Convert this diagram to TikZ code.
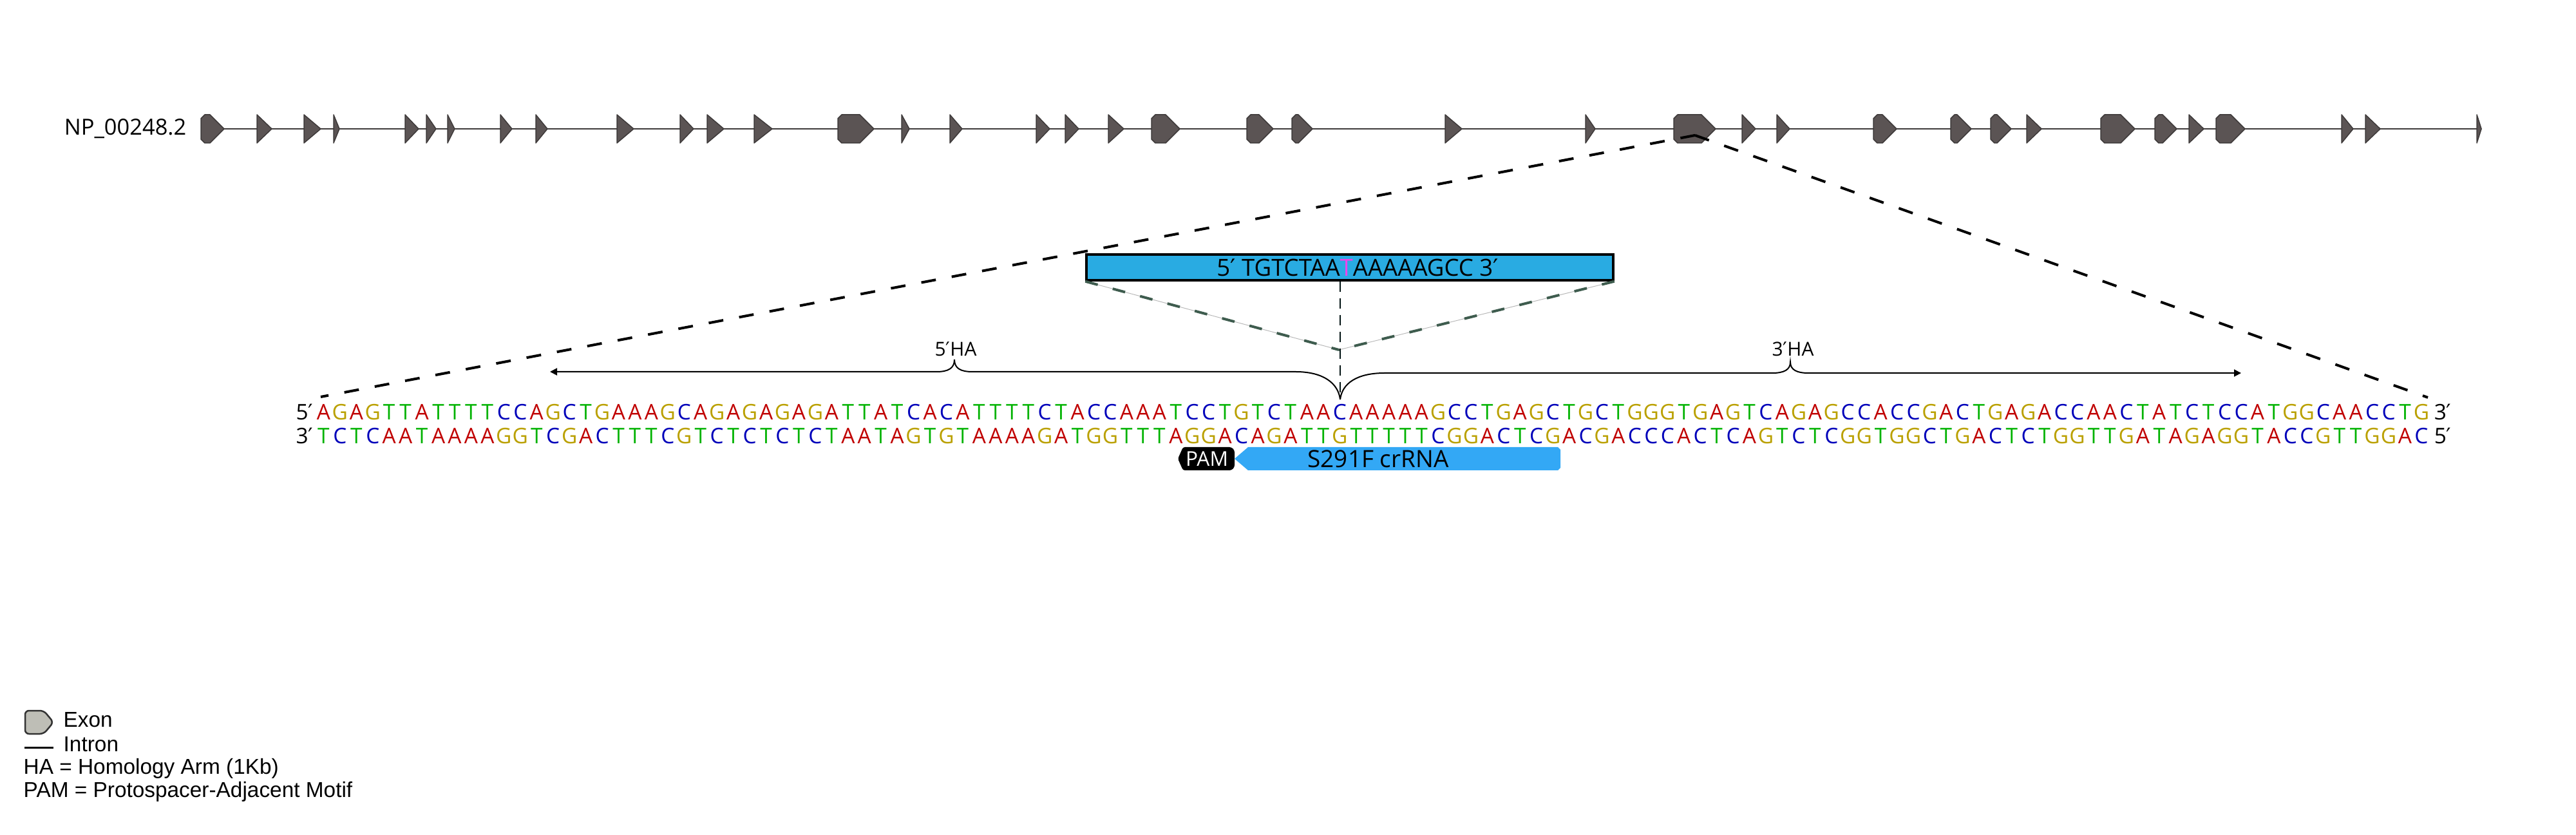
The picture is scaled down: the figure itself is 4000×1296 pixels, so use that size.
\documentclass[tikz,border=0pt]{standalone}
\usepackage{fontspec}
\setmainfont{Liberation Sans}
\newfontfamily\seqfont{Open Sans}
\newfontfamily\primefont{DejaVu Sans}
\usetikzlibrary{arrows.meta}
\definecolor{baseA}{RGB}{192,0,0}
\definecolor{baseG}{RGB}{186,160,0}
\definecolor{baseC}{RGB}{0,0,186}
\definecolor{baseT}{RGB}{0,178,0}
\definecolor{exonfill}{RGB}{91,84,84}
\definecolor{exonline}{RGB}{62,58,58}
\definecolor{editblue}{RGB}{41,171,226}
\definecolor{mutpink}{RGB}{235,70,235}
\definecolor{rnablue}{RGB}{51,168,245}
\definecolor{vgreen}{RGB}{62,92,78}
\definecolor{legendgrey}{RGB}{190,190,182}
% one coloured base per fixed-width box
\newlength\basew \setlength\basew{2.545mm}
\newcommand\dnabase[1]{\makebox[\basew]{\color{base#1}#1}}
\def\dna#1{\dnastep#1\relax}
\def\dnastep#1{\ifx\relax#1\else\dnabase{#1}\expandafter\dnastep\fi}
\newcommand\pr{{\primefont ′}}

\begin{document}
\begin{tikzpicture}[x=0.1mm,y=-0.1mm,
  exon/.style={fill=exonfill,draw=exonline,line width=0.15mm,line join=round},
  zoomline/.style={black,line width=0.4mm,dash pattern=on 2.3mm off 2.5mm},
  vline/.style={vgreen,line width=0.4mm,dash pattern=on 2mm off 2.4mm},
  cutline/.style={black!85!teal,line width=0.2mm,dash pattern=on 1.6mm off 1mm},
  brace/.style={black,line width=0.2mm,-{Triangle[length=1.1mm,width=1.1mm]}},
  seqtext/.style={font=\seqfont\fontsize{9.5}{11}\selectfont,inner sep=0},
  halabel/.style={font=\seqfont\fontsize{8.5}{10}\selectfont,inner sep=0,anchor=base},
  legendtext/.style={font=\fontsize{9.5}{11}\selectfont,inner sep=0,anchor=base west}]
\useasboundingbox (0,0) rectangle (4000,1296);
%
% gene model
\node[anchor=east,inner sep=0,font=\seqfont\fontsize{9.8}{12}\selectfont] (gene) at (290,200) {NP\_00248.2};
\draw[exonline,line width=0.25mm] (312,200) -- (3853,200);
\foreach \exl/\exr in {312/348,399/422,472/498,518/527,629/650,662/677,695/706,777/795,
  832/850,958/984,1056/1077,1098/1124,1171/1199,1301/1357,1400/1412,1475/1494,1609/1630,
  1654/1675,1721/1745,1788/1832,1936/1977,2006/2038,2244/2270,2462/2477,2599/2664,
  2705/2726,2759/2779,2909/2945,3029/3061,3091/3123,3147/3170,3262/3315,3346/3380,
  3399/3422,3441/3486,3636/3654,3673/3696,3846/3853}{
  \pgfmathsetmacro\exw{\exr-\exl}
  \ifdim\exw pt>29pt
    \path[exon] (\exl,184) -- (\exl+6,178) -- (\exr-22,178) -- (\exr,200) -- (\exr-22,222) -- (\exl+6,222) -- (\exl,216) -- cycle;
  \else
    \path[exon] (\exl,178) -- (\exr,200) -- (\exl,222) -- cycle;
  \fi
}
%
% zoom to the sequence
\coordinate (exonsrc) at (2632,210);
\coordinate (zoomleft) at (498,616);
\coordinate (zoomright) at (3770,617);
\draw[zoomline] (exonsrc) -- (zoomleft);
\draw[zoomline] (exonsrc) -- (zoomright);
%
% edited sequence
\node[draw=black,fill=editblue,line width=0.35mm,minimum width=81.8mm,minimum height=4mm,inner sep=0] (edit) at (2096,415) {};
\node[inner sep=0,font=\seqfont\fontsize{10.4}{12}\selectfont] (edittext) at (2108,415)
  {5\pr\ TGTCTAA{\color{mutpink}T}AAAAAGCC 3\pr};
\coordinate (vtip) at (2079,543);
\coordinate (cut) at (2081,620);
\draw[gray!55,line width=0.1mm] (edit.south west) -- (vtip) -- (edit.south east);
\draw[vline] (edit.south west) -- (vtip);
\draw[vline] (edit.south east) -- (vtip);
\draw[cutline] (edit.south -| cut) -- (cut);
%
% homology arms
\coordinate (ha5end) at (854,577);
\coordinate (ha3end) at (3480,579);
\draw[brace] (cut) .. controls (2078,595) and (2055,577) .. (2012,577) -- (1510,577)
  .. controls (1492,577) and (1482,572) .. (1482,558) .. controls (1482,572) and (1472,577) .. (1454,577) -- (ha5end);
\draw[brace] (cut) .. controls (2084,595) and (2107,579) .. (2150,579) -- (2752,579)
  .. controls (2770,579) and (2780,574) .. (2780,562) .. controls (2780,574) and (2790,579) .. (2808,579) -- (ha3end);
\node[halabel] (ha5) at (1484,553) {5\pr HA};
\node[halabel] (ha3) at (2784,553) {3\pr HA};
%
% both strands
\node[seqtext,anchor=base east] (top5) at (487,652) {5\pr};
\node[seqtext,anchor=base west] (topseq) at (489,652)
  {\dna{AGAGTTATTTTCCAGCTGAAAGCAGAGAGAGATTATCACATTTTCTACCAAATCCTGTCTAACAAAAAGCCTGAGCTGCTGGGTGAGTCAGAGCCACCGACTGAGACCAACTATCTCCATGGCAACCTG}};
\node[seqtext,anchor=base west] (top3) at (3779,652) {3\pr};
\node[seqtext,anchor=base east] (bot3) at (487,689) {3\pr};
\node[seqtext,anchor=base west] (botseq) at (489,689)
  {\dna{TCTCAATAAAAGGTCGACTTTCGTCTCTCTCTAATAGTGTAAAAGATGGTTTAGGACAGATTGTTTTTCGGACTCGACGACCCACTCAGTCTCGGTGGCTGACTCTGGTTGATAGAGGTACCGTTGGAC}};
\node[seqtext,anchor=base west] (bot5) at (3779,689) {5\pr};
%
% PAM and crRNA
\fill[black,rounded corners=0.3mm] (1829,712) -- (1837,694) -- (1912,694) -- (1917,699) -- (1917,725) -- (1912,730) -- (1837,730) -- cycle;
\fill[rnablue] (1917,712) -- (1938,694) -- (2419,694) -- (2423,698) -- (2423,726) -- (2419,730) -- (1938,730) -- cycle;
\node[text=white,inner sep=0,font=\seqfont\fontsize{9}{10}\selectfont] (pam) at (1874,712) {PAM};
\node[inner sep=0,font=\seqfont\fontsize{10.5}{12}\selectfont] (crrna) at (2140,712) {S291F crRNA};
%
% legend
\filldraw[fill=legendgrey,draw=black!80,line width=0.25mm,rounded corners=0.6mm]
  (39,1103) -- (68,1103) -- (83,1121) -- (68,1139) -- (39,1139) -- cycle;
\draw[black,line width=0.3mm] (38,1160) -- (83,1160);
\node[legendtext] (legexon) at (98,1128) {Exon};
\node[legendtext] (legintron) at (98,1166) {Intron};
\node[legendtext] (legha) at (36,1201) {HA = Homology Arm (1Kb)};
\node[legendtext] (legpam) at (36,1237) {PAM = Protospacer-Adjacent Motif};
\end{tikzpicture}
\end{document}
